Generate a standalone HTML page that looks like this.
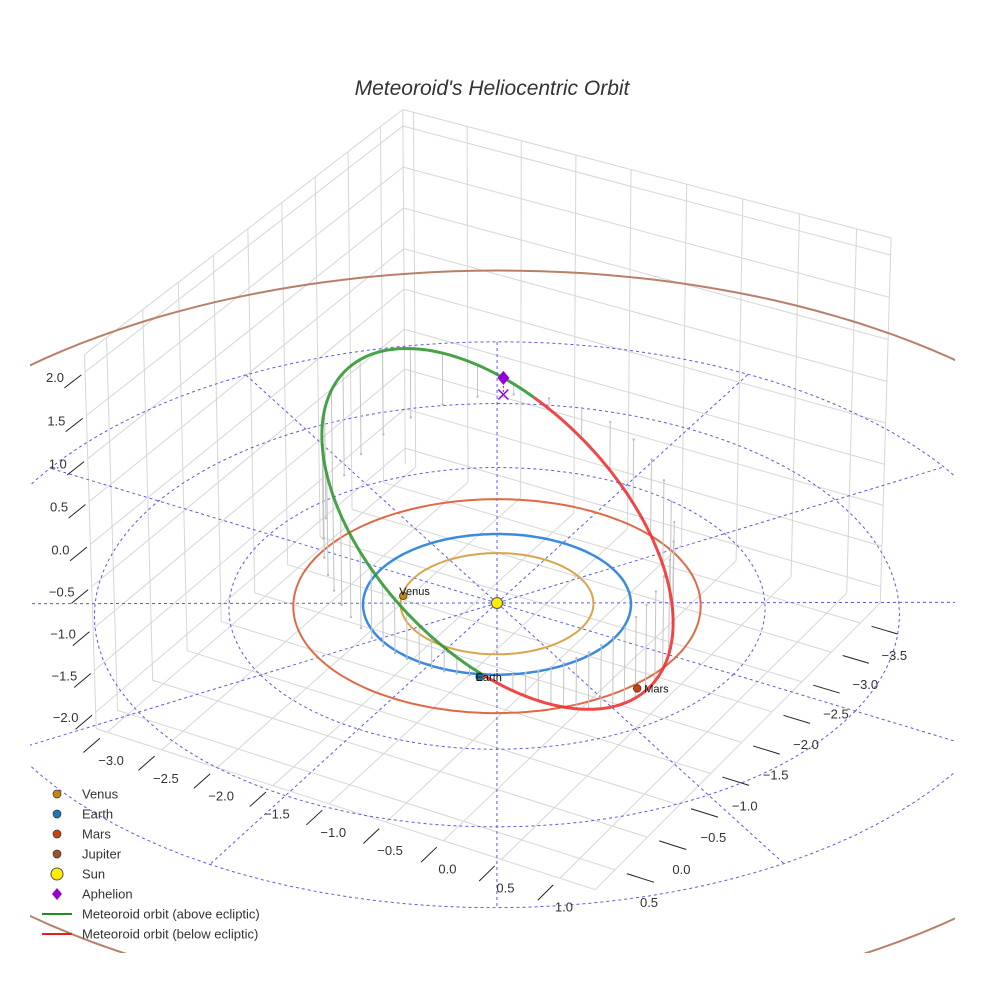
<!DOCTYPE html>
<html><head><meta charset="utf-8"><title>Meteoroid's Heliocentric Orbit</title>
<style>
html,body{margin:0;padding:0;background:#fff;}
svg{display:block;font-family:"Liberation Sans",Arial,sans-serif;}
</style></head>
<body>
<svg id="chart" width="984" height="984" viewBox="0 0 984 984" xmlns="http://www.w3.org/2000/svg">
  <defs><clipPath id="plotClip"><rect x="30" y="0" width="925" height="953"/></clipPath></defs>
  <rect x="0" y="0" width="984" height="984" fill="#fff"/>
  <text x="492" y="95" text-anchor="middle" font-size="21" font-style="italic" fill="#333">Meteoroid's Heliocentric Orbit</text>
  <g id="scene" clip-path="url(#plotClip)"></g>
  <g id="axes"></g>
  <g id="legend"></g>
</svg>
<script>
// ---- data ----
const xTicks = [-3.0, -2.5, -2.0, -1.5, -1.0, -0.5, 0.0, 0.5, 1.0];
const yTicks = [-3.5, -3.0, -2.5, -2.0, -1.5, -1.0, -0.5, 0.0, 0.5];
const zTicks = [-2.0, -1.5, -1.0, -0.5, 0.0, 0.5, 1.0, 1.5, 2.0];
const xRange = [-3.1, 1.3];
const yRange = [-3.85, 0.8];
const zRange = [-2.2, 2.2];
const planetNames = ["Venus", "Earth", "Mars"];
const planetX = [-0.659, 0.404, 1.481];
const planetY = [0.261, 0.954, 0.519];
const orbitNames = ["Venus", "Earth", "Mars", "Jupiter"];
const orbitRadii = [0.72, 1.0, 1.52, 5.2];
const polarRadii = [1, 2, 3, 4];
const polarAngles = [0, 30, 60, 90, 120, 150, 180, 210, 240, 270, 300, 330];
// meteoroid orbital elements: perihelion, aphelion (AU), inclination, node, arg. of perihelion (deg)
const meteoroidQ = [1.02];
const meteoroidAph = [3.15];
const meteoroidIncl = [42];
const meteoroidNode = [65];
const meteoroidArgPeri = [-5.5];

// ---- projection (affine + weak perspective) ----
const CX = 497, CY = 603, UX = [116, 35], UY = [-67, 61], ZS = 86, DIST = 45;
function P(x, y, z) {
  const dx = x * UX[0] + y * UY[0], dy = x * UX[1] + y * UY[1] - z * ZS;
  const d = 0.43 * x + 0.75 * y + 0.3 * z;
  const s = DIST / (DIST - d);
  return [CX + dx * s, CY + dy * s];
}
const NS = "http://www.w3.org/2000/svg";
function mk(tag, attrs, parent) {
  const e = document.createElementNS(NS, tag);
  for (const k in attrs) e.setAttribute(k, attrs[k]);
  parent.appendChild(e);
  return e;
}
function pts(arr) { return arr.map(p => p[0].toFixed(1) + "," + p[1].toFixed(1)).join(" "); }
const scene = document.getElementById("scene");
const axes = document.getElementById("axes");
const legend = document.getElementById("legend");
function ticksIn(r) { const t = []; for (let v = Math.ceil(r[0] * 2) / 2; v <= r[1] + 1e-9; v += 0.5) t.push(v); return t; }
const [x0, x1] = xRange, [y0, y1] = yRange, [z0, z1] = zRange;

// ---- box grid ----
const gridG = mk("g", {stroke: "#d6d6d6", "stroke-width": 1, fill: "none"}, scene);


function gl(a, b) {
  const l = mk("line", {x1: a[0], y1: a[1], x2: b[0], y2: b[1]}, gridG);
  
  
}
ticksIn(yRange).forEach(y => gl(P(x0, y, z0), P(x0, y, z1)));
ticksIn(zRange).forEach(z => gl(P(x0, y0, z), P(x0, y1, z)));
ticksIn(xRange).forEach(x => gl(P(x, y0, z0), P(x, y0, z1)));
ticksIn(zRange).forEach(z => gl(P(x0, y0, z), P(x1, y0, z)));
ticksIn(xRange).forEach(x => gl(P(x, y0, z0), P(x, y1, z0)));
ticksIn(yRange).forEach(y => gl(P(x0, y, z0), P(x1, y, z0)));
gl(P(x0, y0, z0), P(x0, y0, z1)); gl(P(x0, y1, z0), P(x0, y1, z1)); gl(P(x1, y0, z0), P(x1, y0, z1));
gl(P(x0, y0, z1), P(x0, y1, z1)); gl(P(x0, y0, z1), P(x1, y0, z1));
gl(P(x0, y1, z0), P(x1, y1, z0)); gl(P(x1, y0, z0), P(x1, y1, z0));

// ---- ecliptic polar grid ----
const polG = mk("g", {stroke: "#5a5ae6", "stroke-width": 1, fill: "none", "stroke-dasharray": "3,3"}, scene);


polarRadii.forEach(r => {
  const c = [];
  for (let a = 0; a <= 360; a += 3) { const t = a * Math.PI / 180; c.push(P(r * Math.cos(t), r * Math.sin(t), 0)); }
  const pl = mk("polyline", {points: pts(c)}, polG);
  
  
});
const rMax = polarRadii[polarRadii.length - 1];
polarAngles.forEach(a => {
  const t = (a - 30) * Math.PI / 180;
  const e = P(rMax * Math.cos(t), rMax * Math.sin(t), 0);
  const l = mk("line", {x1: CX, y1: CY, x2: e[0], y2: e[1]}, polG);
  
  
});

// ---- planet orbits ----
const orbitColors = ["#d9a44a", "#3a8be0", "#e06a45", "#b8806a"];
orbitRadii.forEach((r, i) => {
  const c = [];
  for (let a = 0; a <= 360; a += 2) { const t = a * Math.PI / 180; c.push(P(r * Math.cos(t), r * Math.sin(t), 0)); }
  const pl = mk("polyline", {points: pts(c), fill: "none", stroke: orbitColors[i], "stroke-width": i === 1 ? 2.5 : 2}, scene);
  
  
});

// ---- meteoroid orbit ----
const q = meteoroidQ[0], Qa = meteoroidAph[0];
const aS = (q + Qa) / 2, ecc = (Qa - q) / (Qa + q), pL = aS * (1 - ecc * ecc);
const inc = meteoroidIncl[0] * Math.PI / 180, Om = meteoroidNode[0] * Math.PI / 180, w = meteoroidArgPeri[0] * Math.PI / 180;
function orb(nuDeg) {
  const nu = nuDeg * Math.PI / 180, r = pL / (1 + ecc * Math.cos(nu)), u = w + nu;
  return [r * (Math.cos(Om) * Math.cos(u) - Math.sin(Om) * Math.sin(u) * Math.cos(inc)),
          r * (Math.sin(Om) * Math.cos(u) + Math.cos(Om) * Math.sin(u) * Math.cos(inc)),
          r * Math.sin(u) * Math.sin(inc)];
}
const dropG = mk("g", {stroke: "#c4c4c4", "stroke-width": 1}, scene);


for (let n = 0; n < 360; n += 7) {
  const o = orb(n);
  if (Math.abs(o[2]) < 0.08) continue;
  const a = P(o[0], o[1], o[2]), b = P(o[0], o[1], 0);
  const l = mk("line", {x1: a[0], y1: a[1], x2: b[0], y2: b[1]}, dropG);
  
  
  const d = mk("circle", {cx: b[0], cy: b[1], r: 1.2, fill: "#bbb", stroke: "none"}, dropG);
  
  
}
let seg = [], segSign = null;
function flush() {
  if (seg.length > 1) {
    const pl = mk("polyline", {points: pts(seg), fill: "none", stroke: segSign > 0 ? "#2e962e" : "#ee2e2e", "stroke-width": 3, "stroke-opacity": 0.88, "stroke-linejoin": "round"}, scene);
    
    
  }
}
for (let n = 0; n <= 360; n += 1) {
  const o = orb(n), s = o[2] >= 0 ? 1 : -1, p = P(o[0], o[1], o[2]);
  if (segSign !== null && s !== segSign) { seg.push(p); flush(); seg = [seg[seg.length - 1]]; }
  segSign = s; seg.push(p);
}
flush();

// ---- planets ----
const planetColors = ["#c8860a", "#1f77b4", "#c8440e"];
planetNames.forEach((nm, i) => {
  const p = P(planetX[i], planetY[i], 0);
  const c = mk("circle", {cx: p[0], cy: p[1], r: 3.8, fill: planetColors[i], stroke: "#333", "stroke-width": 0.7}, scene);
  
  
  const t = mk("text", {x: p[0] + (i === 2 ? 7 : -4), y: p[1] + (i === 0 ? -1 : 4), "font-size": 11, fill: "#111"}, scene);
  t.textContent = nm;
  
  
});
const sp = P(0, 0, 0);
const sun = mk("circle", {cx: sp[0], cy: sp[1], r: 5.5, fill: "#ffee00", stroke: "#555", "stroke-width": 1}, scene);


const ap = orb(180), apP = P(ap[0], ap[1], ap[2]), apG = P(ap[0], ap[1], 0);
const apl = mk("line", {x1: apP[0], y1: apP[1], x2: apG[0], y2: apG[1], stroke: "#9400d3", "stroke-width": 1, "stroke-dasharray": "2,2"}, scene);


const dia = mk("polygon", {points: pts([[apP[0], apP[1] - 7], [apP[0] + 6, apP[1]], [apP[0], apP[1] + 7], [apP[0] - 6, apP[1]]]), fill: "#9400d3"}, scene);


const xm = mk("path", {d: `M${apG[0]-5},${apG[1]-5}L${apG[0]+5},${apG[1]+5}M${apG[0]+5},${apG[1]-5}L${apG[0]-5},${apG[1]+5}`, stroke: "#9400d3", "stroke-width": 1.5}, scene);



// ---- axis ticks & labels ----
function fmt(v) { return (v < 0 ? "\u2212" : "") + Math.abs(v).toFixed(1); }
function tick(a, b) {
  const l = mk("line", {x1: a[0], y1: a[1], x2: b[0], y2: b[1], stroke: "#222", "stroke-width": 1}, axes);
  
  
}
function lab(p, s, name) {
  const t = mk("text", {x: p[0], y: p[1], "text-anchor": "middle", "font-size": 13, fill: "#333"}, axes);
  t.textContent = s;
  
  
}
zTicks.forEach(z => {
  tick(P(x0, y1 + 0.05, z), P(x0, y1 + 0.28, z));
  const p = P(x0, y1, z);
  lab([p[0] - 30, p[1] + 10], fmt(z), 'z-tick-label');
});
xTicks.forEach(x => {
  tick(P(x, y1 + 0.1, z0), P(x, y1 + 0.33, z0));
  const p = P(x, y1, z0);
  lab([p[0] + 4, p[1] + 33], fmt(x), 'x-tick-label');
});
yTicks.forEach(y => {
  tick(P(x1 + 0.1, y, z0), P(x1 + 0.33, y, z0));
  const p = P(x1, y, z0);
  lab([p[0] + 34, p[1] + 37], fmt(y), 'y-tick-label');
});

// ---- legend ----
const legNames = ["Venus", "Earth", "Mars", "Jupiter", "Sun", "Aphelion", "Meteoroid orbit (above ecliptic)", "Meteoroid orbit (below ecliptic)"];
const legColors = ["#c8860a", "#1f77b4", "#c8440e", "#a0522d", "#ffee00", "#9400d3", "#228b22", "#e81c1c"];
legNames.forEach((nm, i) => {
  const y = 794 + i * 20;
  const g = mk("g", {}, legend);
  
  
  if (i < 4) mk("circle", {cx: 57, cy: y, r: 4, fill: legColors[i], stroke: "#333", "stroke-width": 0.7}, g);
  else if (i === 4) mk("circle", {cx: 57, cy: y, r: 6, fill: legColors[i], stroke: "#555", "stroke-width": 1}, g);
  else if (i === 5) mk("polygon", {points: `57,${y-6} 62,${y} 57,${y+6} 52,${y}`, fill: legColors[i]}, g);
  else mk("line", {x1: 42, y1: y, x2: 72, y2: y, stroke: legColors[i], "stroke-width": 2}, g);
  const t = mk("text", {x: 82, y: y + 4.5, "font-size": 13, fill: "#333"}, g);
  t.textContent = nm;
});
</script>
</body></html>
